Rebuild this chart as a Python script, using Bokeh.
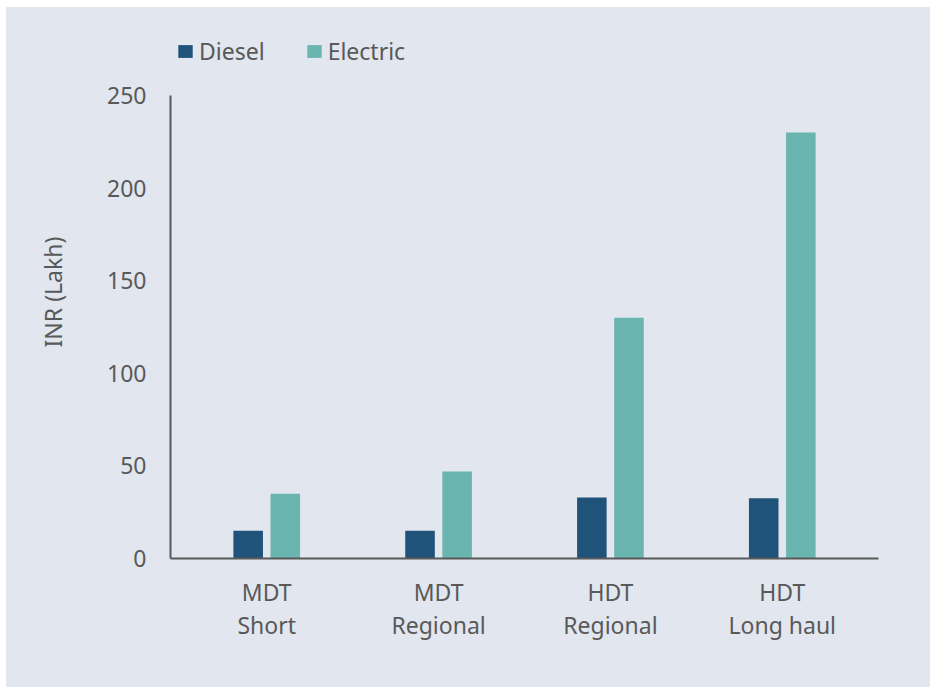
from bokeh.plotting import figure
from bokeh.models import ColumnDataSource, FactorRange, Legend, LegendItem, Range1d
from bokeh.transform import dodge
from bokeh.embed import file_html
from bokeh.resources import INLINE

categories = ["MDT\nShort", "MDT\nRegional", "HDT\nRegional", "HDT\nLong haul"]
diesel = [15, 15, 33, 32.5]
electric = [35, 47, 130, 230]
y_ticks = [0, 50, 100, 150, 200, 250]
y_max = 250

FONT = "Noto Sans"
TXT = "#595959"
BG = "#e1e6ef"

src = ColumnDataSource(dict(cat=categories, diesel=diesel, electric=electric))

# frame extends above the axis top so the legend can sit inside it
p = figure(width=924, height=680, output_backend="svg", toolbar_location=None,
           x_range=FactorRange(*categories, range_padding=0.03),
           y_range=Range1d(0, 287.8),
           background_fill_alpha=0, border_fill_alpha=0,
           min_border_left=164, min_border_right=52, min_border_top=18, min_border_bottom=129)
p.styles = {"background-color": BG}
p.margin = (7, 0, 0, 6)
p.outline_line_color = None
p.grid.grid_line_color = None

r1 = p.vbar(x=dodge("cat", -0.108, range=p.x_range), top="diesel", width=0.172,
            source=src, color="#1f537a", line_color=None)
r2 = p.vbar(x=dodge("cat", 0.108, range=p.x_range), top="electric", width=0.172,
            source=src, color="#6ab5af", line_color=None)

for ax in (p.xaxis[0], p.yaxis[0]):
    ax.axis_line_color = "#595959"
    ax.axis_line_width = 2
    ax.major_tick_line_color = None
    ax.minor_tick_line_color = None
    ax.major_tick_out = 0
    ax.minor_tick_out = 0
    ax.major_label_text_font = FONT
    ax.major_label_text_font_size = "23px"
    ax.major_label_text_color = TXT

p.yaxis.ticker = y_ticks
p.yaxis.bounds = (0, y_max)
p.yaxis.major_label_standoff = 24
p.yaxis.axis_label = "INR (Lakh)"
p.yaxis.axis_label_text_font = FONT
p.yaxis.axis_label_text_font_size = "23px"
p.yaxis.axis_label_text_font_style = "normal"
p.yaxis.axis_label_text_color = TXT
p.yaxis.axis_label_standoff = 35

p.xaxis.major_label_standoff = 17
p.xaxis.major_label_text_line_height = 1.05

legend = Legend(items=[LegendItem(label="Diesel", renderers=[r1]),
                       LegendItem(label="Electric", renderers=[r2])],
                location=(6, 491), orientation="horizontal",
                glyph_width=18, glyph_height=16, label_standoff=5, spacing=40,
                padding=0, margin=0, border_line_color=None,
                background_fill_alpha=0,
                label_text_font=FONT, label_text_font_size="23px",
                label_text_color=TXT)
p.add_layout(legend, "center")

open("out.html", "w").write(file_html(p, INLINE))
